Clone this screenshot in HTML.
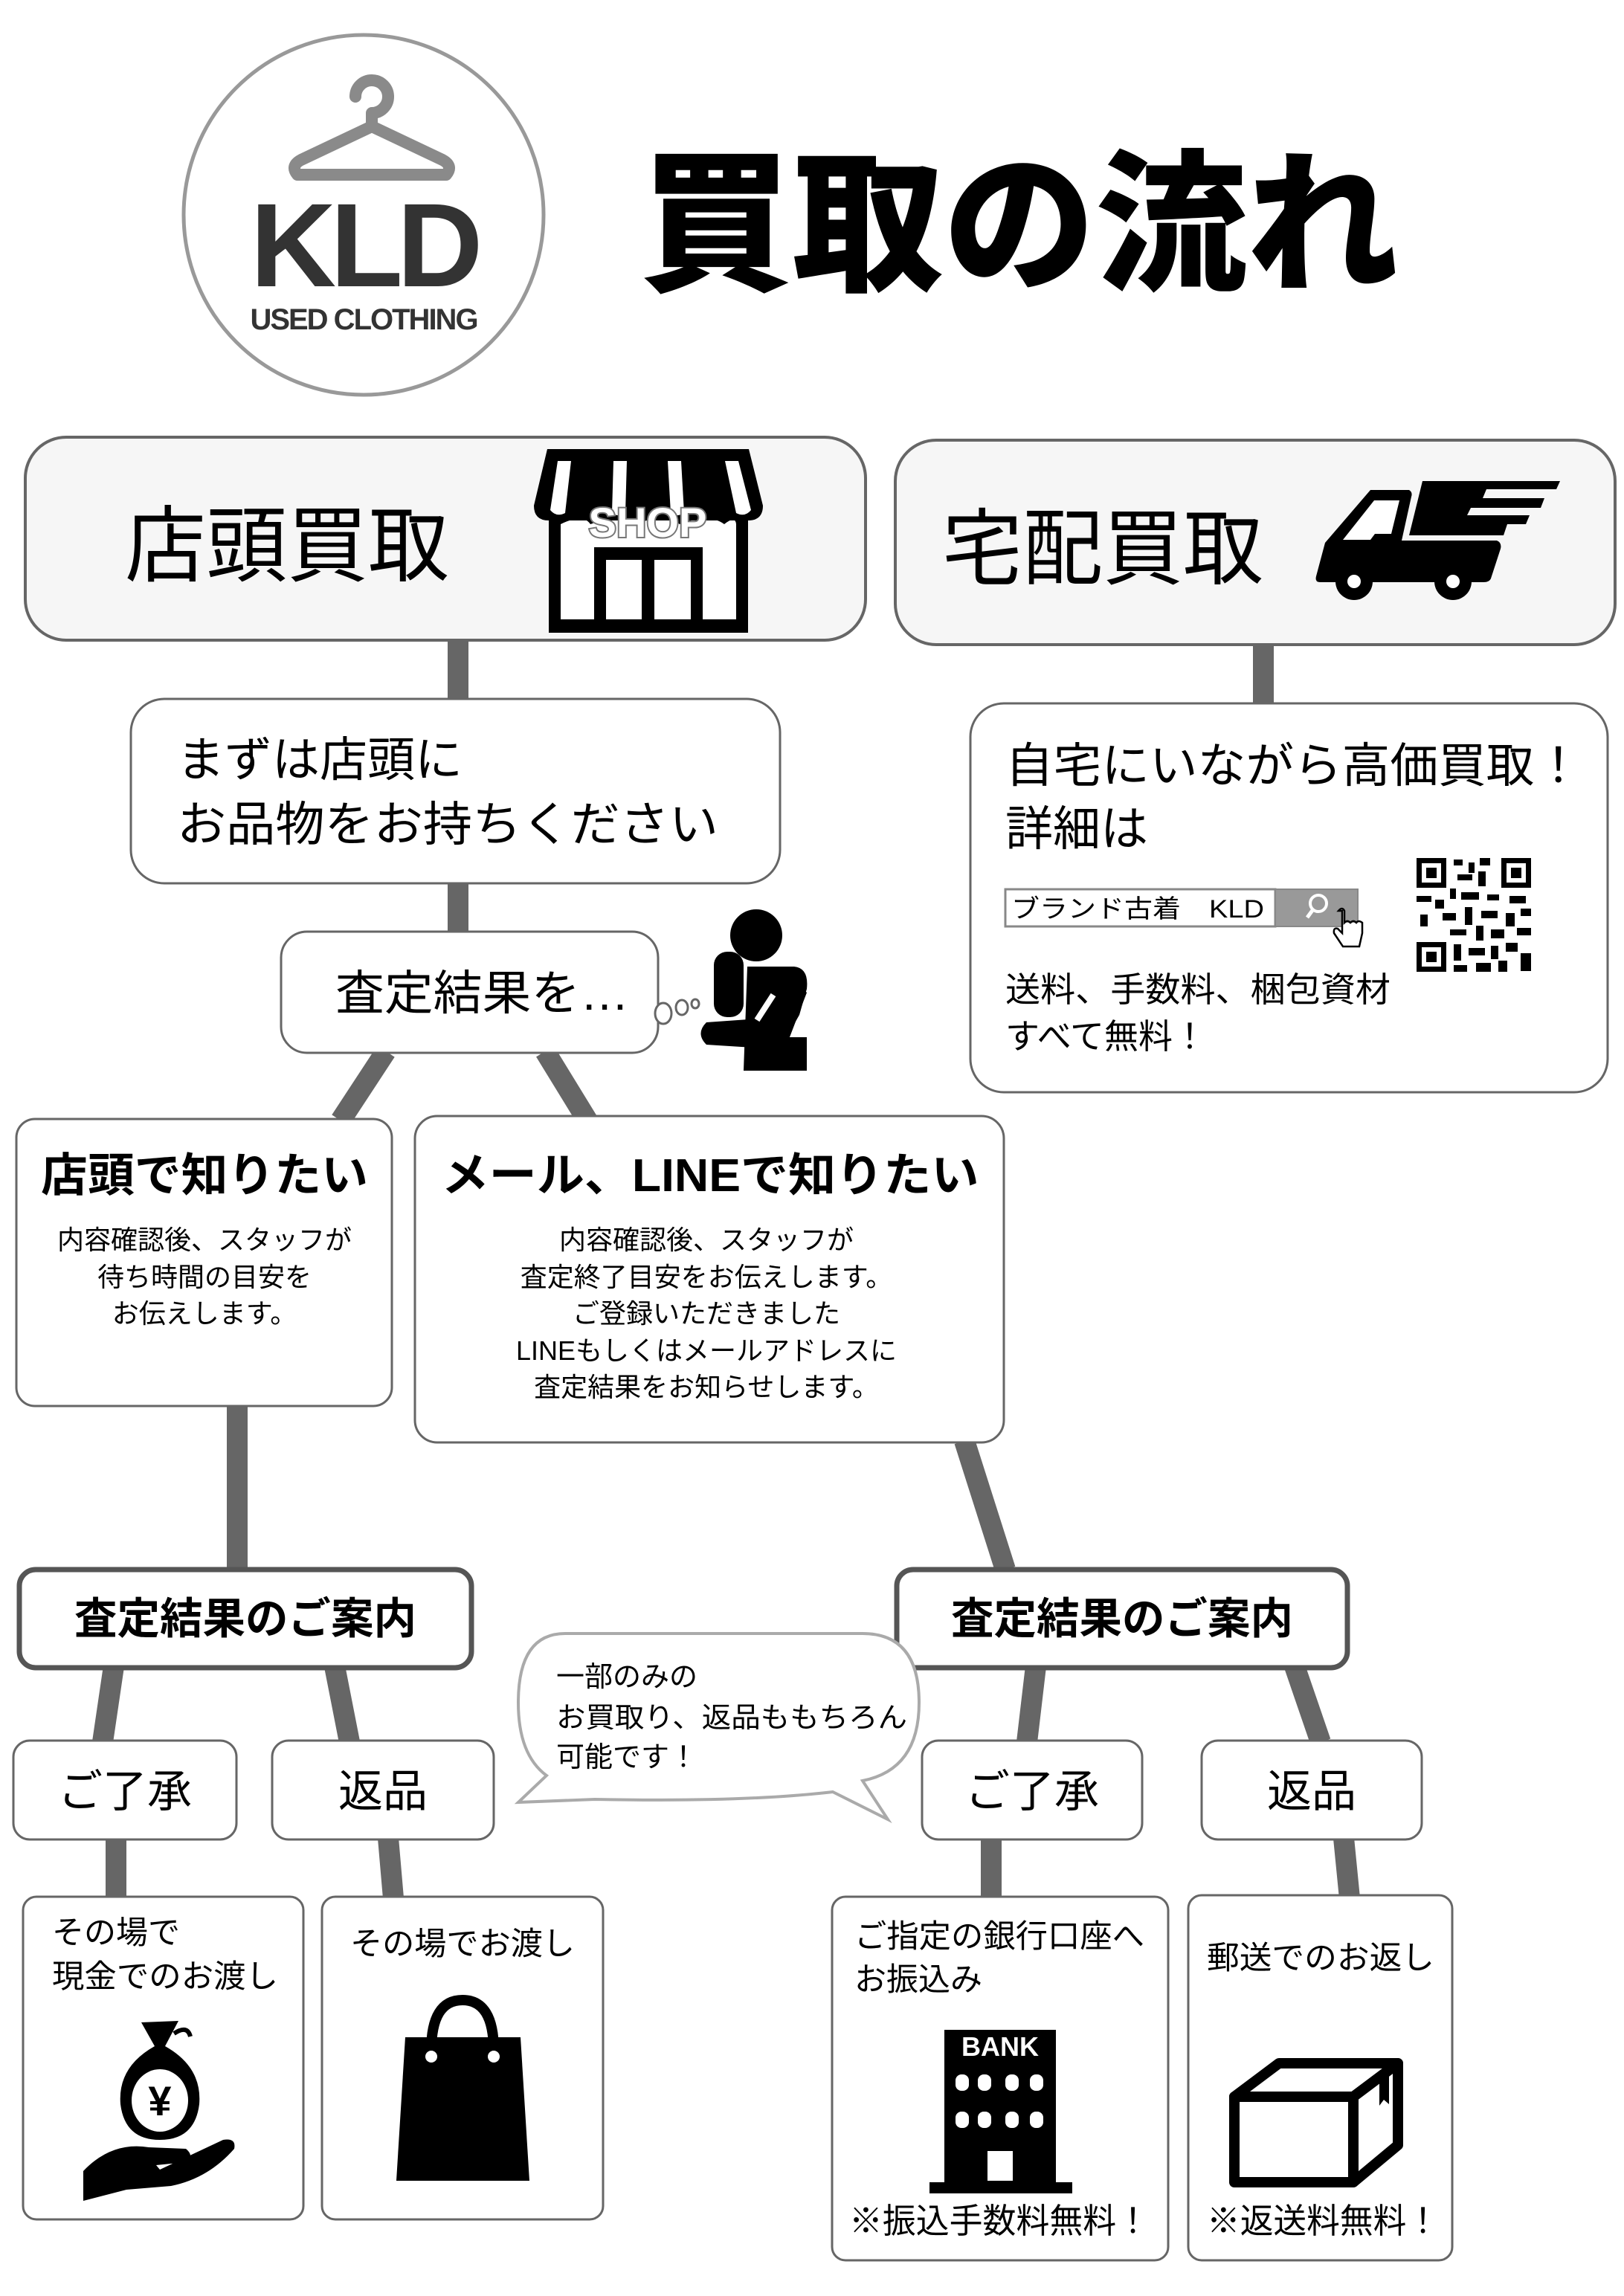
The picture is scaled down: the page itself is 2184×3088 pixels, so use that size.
<!DOCTYPE html>
<html><head><meta charset="utf-8"><style>
html,body{margin:0;padding:0;background:#fff;}
svg{display:block;}
text{font-family:"Liberation Sans","Noto Sans CJK JP",sans-serif;fill:#000;}
</style></head><body>
<svg width="2184" height="3088" viewBox="0 0 2184 3088" xmlns="http://www.w3.org/2000/svg">
<rect width="2184" height="3088" fill="#fff"/>

<!-- Logo -->
<circle cx="489" cy="289" r="242" fill="#fff" stroke="#999" stroke-width="5"/>
<g fill="none" stroke="#8a8a8a" stroke-width="16" stroke-linecap="round" stroke-linejoin="round">
  <path d="M478 130 a22 22 0 1 1 22 22 v18"/>
  <path d="M500 170 L405 215 q-15 8 -5 20 h200 q10 -12 -5 -20 Z"/>
</g>
<text x="489" y="385" text-anchor="middle" font-size="160" font-weight="bold" fill="#333" style="fill:#333;letter-spacing:-8px">KLD</text>
<text x="489" y="443" text-anchor="middle" font-size="40" font-weight="bold" style="fill:#333;letter-spacing:-2px">USED CLOTHING</text>

<!-- Title -->
<text x="861" y="375" font-size="206" font-weight="900" textLength="1020" lengthAdjust="spacingAndGlyphs">買取の流れ</text>

<!-- Connectors -->
<g stroke="#666" stroke-width="28" fill="none">
  <line x1="616" y1="860" x2="616" y2="942"/>
  <line x1="1699" y1="866" x2="1699" y2="948"/>
  <line x1="616" y1="1186" x2="616" y2="1255"/>
  <line x1="519" y1="1414" x2="458" y2="1507"/>
  <line x1="733" y1="1414" x2="790" y2="1507"/>
  <line x1="319" y1="1889" x2="319" y2="2111"/>
  <line x1="1297" y1="1938" x2="1352" y2="2111"/>
  <line x1="153" y1="2241" x2="138" y2="2343"/>
  <line x1="450" y1="2241" x2="470" y2="2343"/>
  <line x1="1393" y1="2241" x2="1381" y2="2343"/>
  <line x1="1741" y1="2241" x2="1776" y2="2343"/>
  <line x1="156" y1="2472" x2="156" y2="2553"/>
  <line x1="522" y1="2472" x2="529" y2="2553"/>
  <line x1="1333" y1="2472" x2="1333" y2="2553"/>
  <line x1="1807" y1="2472" x2="1815" y2="2553"/>
</g>

<!-- Top boxes -->
<rect x="34" y="588" width="1130" height="273" rx="55" fill="#f6f6f6" stroke="#666" stroke-width="4"/>
<text x="168" y="773" font-size="112" textLength="436" lengthAdjust="spacingAndGlyphs">店頭買取</text>
<rect x="1204" y="592" width="968" height="275" rx="55" fill="#f6f6f6" stroke="#666" stroke-width="4"/>
<text x="1267" y="777" font-size="112" textLength="432" lengthAdjust="spacingAndGlyphs">宅配買取</text>

<!-- Shop icon -->
<g>
  <path d="M736 604 H1007 L1026 680 Q1026 700 1006 700 H738 Q718 700 718 680 Z" fill="#000"/>
  <g fill="#fff">
    <path d="M750 620 h18 l-8 70 q-12 6 -20 -4 z"/>
    <path d="M825 620 h18 l-2 70 q-10 6 -18 0 z"/>
    <path d="M898 620 h18 l4 70 q-10 6 -18 0 z"/>
    <path d="M975 620 h18 l17 66 q-8 10 -20 4 z"/>
  </g>
  <rect x="738" y="700" width="268" height="151" fill="#000"/>
  <rect x="754" y="700" width="236" height="133" fill="#fff"/>
  <path d="M754 705 q30 -15 40 0 q40 -15 60 0 q40 -15 60 0 q40 -15 60 0 q15 -12 16 0 V700 H754Z" fill="#000"/>
  <rect x="799" y="736" width="146" height="97" fill="#000"/>
  <rect x="815" y="753" width="48" height="80" fill="#fff"/>
  <rect x="880" y="753" width="49" height="80" fill="#fff"/>
  <text x="871" y="722" text-anchor="middle" font-size="56" font-weight="bold" style="fill:#fff;stroke:#777;stroke-width:4;paint-order:stroke">SHOP</text>
</g>

<!-- Truck icon -->
<g fill="#000">
  <path d="M1913 647 H2098 L2093 658 H1999 L1994 670 H2077 L2072 683 H1978 L1973 693 H2057 L2052 705 H2027 L2022 720 H1895 Z"/>
  <path d="M1843 659 H1895 Q1900 662 1898 668 L1885 727 H2013 Q2020 730 2018 738 L2005 778 Q2003 783 1995 783 H1775 Q1768 783 1770 775 L1782 730 Z"/>
  <circle cx="1821" cy="782" r="25"/>
  <circle cx="1954" cy="782" r="25"/>
</g>
<path d="M1806 726 L1848 673 H1882 L1871 718 H1849 L1843 726 Z" fill="#fff"/>
<circle cx="1821" cy="782" r="9" fill="#fff"/>
<circle cx="1954" cy="782" r="9" fill="#fff"/>

<!-- まずは -->
<rect x="176" y="940" width="873" height="248" rx="45" fill="#fff" stroke="#666" stroke-width="3"/>
<text x="238" y="1044" font-size="64">まずは店頭に</text>
<text x="238" y="1131" font-size="64" textLength="728" lengthAdjust="spacingAndGlyphs">お品物をお持ちください</text>

<!-- 査定結果を -->
<rect x="378" y="1253" width="507" height="163" rx="35" fill="#fff" stroke="#666" stroke-width="3"/>
<text x="451" y="1358" font-size="64" textLength="395" lengthAdjust="spacingAndGlyphs">査定結果を…</text>
<g fill="#fff" stroke="#666" stroke-width="3">
  <ellipse cx="892" cy="1363" rx="11" ry="14"/>
  <ellipse cx="917" cy="1355" rx="8" ry="10"/>
  <ellipse cx="935" cy="1350" rx="5" ry="6"/>
</g>
<!-- thinking person -->
<g fill="#000">
  <circle cx="1017" cy="1258" r="35"/>
  <path d="M1005 1300 H1068 Q1088 1302 1085 1330 L1075 1365 L1058 1395 H1085 V1440 H1000 Z"/>
  <rect x="960" y="1280" width="40" height="88" rx="18"/>
  <path d="M950 1375 L1020 1370 L1040 1350 L1070 1320 L1085 1335 L1060 1400 Q1050 1410 1030 1410 L950 1405 Q935 1390 950 1375 Z"/>
</g>
<path d="M1018 1372 L1040 1338" stroke="#fff" stroke-width="8"/>

<!-- 自宅 box -->
<rect x="1305" y="946" width="857" height="523" rx="45" fill="#fff" stroke="#666" stroke-width="3"/>
<text x="1352" y="1052" font-size="64" textLength="776" lengthAdjust="spacingAndGlyphs">自宅にいながら高価買取！</text>
<text x="1352" y="1137" font-size="64">詳細は</text>
<rect x="1352" y="1196" width="363" height="50" fill="#fff" stroke="#888" stroke-width="3"/>
<text x="1360" y="1234" font-size="34" textLength="340" lengthAdjust="spacingAndGlyphs">ブランド古着　KLD</text>
<rect x="1715" y="1196" width="111" height="50" fill="#999" stroke="#888" stroke-width="2"/>
<circle cx="1773" cy="1215" r="11" fill="none" stroke="#fff" stroke-width="4"/>
<line x1="1766" y1="1223" x2="1758" y2="1234" stroke="#fff" stroke-width="5"/>
<path d="M1805 1225 v30 l-6 -6 q-6 -2 -5 6 l12 18 h22 l4 -18 v-14 q-5 -4 -8 0 q-4 -4 -8 0 q-4 -4 -8 0 v-16 q-3 -6 -8 0 z" fill="#fff" stroke="#000" stroke-width="2.5"/>
<!-- QR -->
<g fill="#000">
  <rect x="1905" y="1154" width="154" height="153" fill="#fff"/>
  <rect x="1905" y="1154" width="40" height="40"/><rect x="1912" y="1161" width="26" height="26" fill="#fff"/><rect x="1918" y="1167" width="14" height="14"/>
  <rect x="2019" y="1154" width="40" height="40"/><rect x="2026" y="1161" width="26" height="26" fill="#fff"/><rect x="2032" y="1167" width="14" height="14"/>
  <rect x="1905" y="1267" width="40" height="40"/><rect x="1912" y="1274" width="26" height="26" fill="#fff"/><rect x="1918" y="1280" width="14" height="14"/>
  <rect x="1955" y="1156" width="12" height="8"/><rect x="1975" y="1160" width="8" height="14"/><rect x="1990" y="1154" width="14" height="10"/>
  <rect x="1960" y="1176" width="20" height="8"/><rect x="1988" y="1172" width="10" height="20"/><rect x="1950" y="1195" width="8" height="14"/>
  <rect x="1905" y="1205" width="20" height="8"/><rect x="1930" y="1210" width="12" height="12"/><rect x="1965" y="1200" width="24" height="10"/>
  <rect x="2000" y="1203" width="16" height="8"/><rect x="2030" y="1205" width="22" height="10"/><rect x="1910" y="1230" width="10" height="16"/>
  <rect x="1940" y="1228" width="18" height="10"/><rect x="1970" y="1220" width="10" height="24"/><rect x="1992" y="1225" width="22" height="10"/>
  <rect x="2025" y="1228" width="12" height="18"/><rect x="2045" y="1222" width="14" height="10"/><rect x="1950" y="1250" width="22" height="8"/>
  <rect x="1985" y="1245" width="10" height="20"/><rect x="2005" y="1250" width="18" height="12"/><rect x="2040" y="1248" width="19" height="10"/>
  <rect x="1955" y="1270" width="10" height="22"/><rect x="1975" y="1275" width="22" height="10"/><rect x="2005" y="1272" width="10" height="18"/>
  <rect x="2025" y="1268" width="16" height="12"/><rect x="2045" y="1282" width="14" height="24"/><rect x="1985" y="1295" width="20" height="12"/>
  <rect x="2015" y="1292" width="12" height="15"/><rect x="1955" y="1298" width="18" height="9"/>
</g>
<text x="1352" y="1347" font-size="46" textLength="518" lengthAdjust="spacingAndGlyphs">送料、手数料、梱包資材</text>
<text x="1352" y="1410" font-size="46">すべて無料！</text>

<!-- 店頭で知りたい -->
<rect x="22" y="1505" width="505" height="386" rx="25" fill="#fff" stroke="#666" stroke-width="3"/>
<text x="275" y="1602" text-anchor="middle" font-size="62" font-weight="bold" textLength="440" lengthAdjust="spacingAndGlyphs">店頭で知りたい</text>
<g font-size="36" text-anchor="middle">
<text x="275" y="1680">内容確認後、スタッフが</text>
<text x="275" y="1730">待ち時間の目安を</text>
<text x="275" y="1779">お伝えします。</text>
</g>

<!-- メール box -->
<rect x="558" y="1501" width="792" height="439" rx="30" fill="#fff" stroke="#666" stroke-width="3"/>
<text x="955" y="1602" text-anchor="middle" font-size="62" font-weight="bold" textLength="723" lengthAdjust="spacingAndGlyphs">メール、LINEで知りたい</text>
<g font-size="36" text-anchor="middle">
<text x="950" y="1680">内容確認後、スタッフが</text>
<text x="950" y="1730">査定終了目安をお伝えします。</text>
<text x="950" y="1779">ご登録いただきました</text>
<text x="950" y="1829">LINEもしくはメールアドレスに</text>
<text x="950" y="1878">査定結果をお知らせします。</text>
</g>

<!-- 査定結果のご案内 -->
<rect x="26" y="2111" width="608" height="132" rx="22" fill="#fff" stroke="#555" stroke-width="7"/>
<text x="330" y="2197" text-anchor="middle" font-size="58" font-weight="bold" textLength="460" lengthAdjust="spacingAndGlyphs">査定結果のご案内</text>
<rect x="1206" y="2111" width="606" height="132" rx="22" fill="#fff" stroke="#555" stroke-width="7"/>
<text x="1509" y="2197" text-anchor="middle" font-size="58" font-weight="bold" textLength="460" lengthAdjust="spacingAndGlyphs">査定結果のご案内</text>

<!-- speech bubble -->
<path d="M760 2197 H1160 Q1236 2197 1236 2290 Q1236 2380 1160 2395 L1194 2447 L1120 2410 Q1000 2424 800 2420 L697 2424 L735 2388 Q697 2360 697 2290 Q697 2197 760 2197 Z" fill="#fff" stroke="#aaa" stroke-width="4"/>
<g font-size="38">
<text x="748" y="2268">一部のみの</text>
<text x="748" y="2323" textLength="472" lengthAdjust="spacingAndGlyphs">お買取り、返品ももちろん</text>
<text x="748" y="2376">可能です！</text>
</g>

<!-- small boxes -->
<g fill="#fff" stroke="#666" stroke-width="3">
  <rect x="18" y="2341" width="300" height="133" rx="22"/>
  <rect x="366" y="2341" width="298" height="133" rx="22"/>
  <rect x="1240" y="2341" width="296" height="133" rx="22"/>
  <rect x="1616" y="2341" width="296" height="133" rx="22"/>
</g>
<g font-size="60" text-anchor="middle">
<text x="168" y="2430">ご了承</text>
<text x="515" y="2430">返品</text>
<text x="1388" y="2430">ご了承</text>
<text x="1764" y="2430">返品</text>
</g>

<!-- bottom boxes -->
<g fill="#fff" stroke="#666" stroke-width="3">
  <rect x="31" y="2551" width="377" height="434" rx="18"/>
  <rect x="433" y="2551" width="378" height="434" rx="18"/>
  <rect x="1119" y="2551" width="452" height="489" rx="18"/>
  <rect x="1598" y="2549" width="355" height="491" rx="18"/>
</g>
<g font-size="43">
<text x="70" y="2614">その場で</text>
<text x="70" y="2673" textLength="304" lengthAdjust="spacingAndGlyphs">現金でのお渡し</text>
<text x="471" y="2629" textLength="302" lengthAdjust="spacingAndGlyphs">その場でお渡し</text>
<text x="1149" y="2619" textLength="390" lengthAdjust="spacingAndGlyphs">ご指定の銀行口座へ</text>
<text x="1149" y="2677">お振込み</text>
<text x="1623" y="2648" textLength="306" lengthAdjust="spacingAndGlyphs">郵送でのお返し</text>
<text x="1142" y="3003" font-size="46" textLength="404" lengthAdjust="spacingAndGlyphs">※振込手数料無料！</text>
<text x="1623" y="3003" font-size="46" textLength="313" lengthAdjust="spacingAndGlyphs">※返送料無料！</text>
</g>

<!-- money bag + hand -->
<g>
  <path d="M190 2720 L240 2718 L222 2752 Q272 2780 268 2830 Q262 2878 215 2878 Q168 2878 162 2830 Q158 2780 208 2752 Z" fill="#000"/>
  <ellipse cx="215" cy="2825" rx="38" ry="42" fill="#fff"/>
  <text x="215" y="2845" text-anchor="middle" font-size="56" font-weight="bold">¥</text>
  <path d="M234 2735 q18 -12 22 4" fill="none" stroke="#000" stroke-width="6"/>
  <path d="M112 2960 V2920 Q150 2880 200 2888 L250 2890 Q262 2900 250 2908 L210 2912 L215 2918 L300 2878 Q318 2875 315 2890 Q280 2930 230 2940 L170 2945 Z" fill="#000"/>
</g>
<!-- shopping bag -->
<g>
  <path d="M580 2758 Q580 2690 622 2690 Q664 2690 664 2758" fill="none" stroke="#000" stroke-width="14"/>
  <path d="M545 2740 H700 L712 2933 H533 Z" fill="#000"/>
  <circle cx="580" cy="2766" r="8" fill="#fff"/><circle cx="664" cy="2766" r="8" fill="#fff"/>
</g>
<!-- bank -->
<g>
  <rect x="1270" y="2730" width="150" height="220" fill="#000"/>
  <rect x="1250" y="2935" width="192" height="15" fill="#000"/>
  <text x="1345" y="2765" text-anchor="middle" font-size="36" font-weight="bold" style="fill:#fff">BANK</text>
  <g fill="#fff">
    <rect x="1285" y="2790" width="18" height="22" rx="8"/><rect x="1315" y="2790" width="18" height="22" rx="8"/><rect x="1352" y="2790" width="18" height="22" rx="8"/><rect x="1385" y="2790" width="18" height="22" rx="8"/>
    <rect x="1285" y="2840" width="18" height="22" rx="8"/><rect x="1315" y="2840" width="18" height="22" rx="8"/><rect x="1352" y="2840" width="18" height="22" rx="8"/><rect x="1385" y="2840" width="18" height="22" rx="8"/>
    <rect x="1328" y="2893" width="34" height="40"/>
  </g>
</g>
<!-- cardboard box -->
<g fill="none" stroke="#000" stroke-width="14" stroke-linejoin="round">
  <path d="M1660 2820 L1720 2775 H1880 L1820 2820 Z"/>
  <path d="M1660 2820 H1820 V2935 H1660 Z"/>
  <path d="M1820 2820 L1880 2775 V2885 L1820 2935"/>
</g>
<path d="M1855 2787 L1868 2778 V2830 L1861 2824 L1855 2832 Z" fill="#000"/>
</svg>
</body></html>
